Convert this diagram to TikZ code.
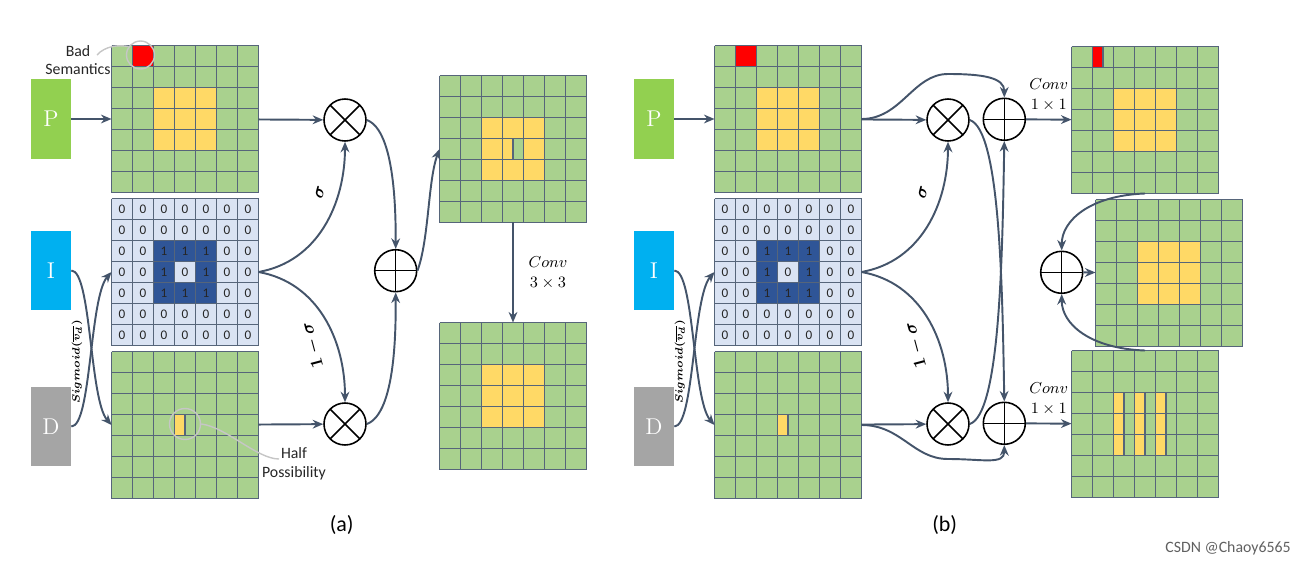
\documentclass[tikz,border=0pt]{standalone}
\usepackage{amsmath}
\usepackage{bm}
\usepackage{fontspec}
\newfontfamily\calib{Carlito}
\usetikzlibrary{calc,arrows.meta}

\definecolor{boxgreen}{HTML}{92D050}
\definecolor{boxblue}{HTML}{00B0F0}
\definecolor{boxgray}{HTML}{A5A5A5}
\definecolor{cellgreen}{HTML}{A9D18E}
\definecolor{cellyellow}{HTML}{FFD966}
\definecolor{cellred}{HTML}{FF0000}
\definecolor{celllight}{HTML}{DAE3F3}
\definecolor{celldark}{HTML}{2F5597}
\definecolor{gridcol}{HTML}{56657A}
\definecolor{arrowcol}{HTML}{44546A}

\def\cellsz{21}
\newcommand\fmcell[4]{\fill[#4] ($(#1.north west)+({(#2-1)*\cellsz},{(#3-1)*\cellsz})$) rectangle +(\cellsz,\cellsz);}
\newcommand\fmhalf[4]{\fill[#4] ($(#1.north west)+({(#2-1)*\cellsz},{(#3-1)*\cellsz})$) rectangle +({\cellsz/2},\cellsz);
	\draw[gridline] ($(#1.north west)+({(#2-0.5)*\cellsz},{(#3-1)*\cellsz})$) -- +(0,\cellsz);}
\newcommand\fmblock[2]{\fill[#2] ($(#1.north west)+(2*\cellsz,2*\cellsz)$) rectangle +(3*\cellsz,3*\cellsz);}
\newcommand\fmgrid[1]{\foreach \k in {0,...,7}{
		\draw[gridline] ($(#1.north west)+(\k*\cellsz,0)$) -- +(0,7*\cellsz);
		\draw[gridline] ($(#1.north west)+(0,\k*\cellsz)$) -- +(7*\cellsz,0);}}

\tikzset{
	fmap/.style={rectangle, inner sep=0pt, outer sep=0pt, minimum size=2.94cm, fill=cellgreen},
	gridline/.style={draw=gridcol, line width=0.6pt},
	inbox/.style={rectangle, minimum width=0.8cm, minimum height=1.6cm, inner sep=0pt, text=white, font=\fontsize{13}{15}\selectfont},
	conn/.style={draw=arrowcol, line width=1.1pt, -{Stealth[length=6pt,width=5pt]}},
	otimesnode/.style={circle, draw, line width=0.9pt, minimum size=0.84cm, inner sep=0pt,
		path picture={\draw[line width=0.9pt] (path picture bounding box.north west) -- (path picture bounding box.south east) (path picture bounding box.north east) -- (path picture bounding box.south west);}},
	oplusnode/.style={circle, draw, line width=0.9pt, minimum size=0.84cm, inner sep=0pt,
		path picture={\draw[line width=0.9pt] (path picture bounding box.north) -- (path picture bounding box.south) (path picture bounding box.west) -- (path picture bounding box.east);}},
	digit/.style={font=\calib\fontsize{7.5}{8}\selectfont, text=black!85, inner sep=0pt},
	annot/.style={draw=gray!45, line width=0.8pt},
	note/.style={font=\calib\fontsize{9}{10.5}\selectfont, align=center, text=black!85},
	convlbl/.style={font=\fontsize{9.5}{11.5}\selectfont, align=center},
	weightlbl/.style={font=\fontsize{10}{12}\selectfont, inner sep=1pt},
}

\begin{document}
\begin{tikzpicture}[x=0.02cm, y=-0.02cm]
	\useasboundingbox (0,0) rectangle (1306,565);
	% the two input columns
	\foreach \s/\dx in {a/0, b/603}{
		\node[inbox, fill=boxgreen] (Pbox\s) at (51+\dx,119) {P};
		\node[inbox, fill=boxblue] (Ibox\s) at (51+\dx,270.5) {I};
		\node[inbox, fill=boxgray] (Dbox\s) at (51+\dx,426.5) {D};
		\node[fmap] (P\s) at (185+\dx,119) {};
		\node[fmap, fill=celllight] (I\s) at (185+\dx,272) {};
		\node[fmap] (D\s) at (185+\dx,425) {};
		\fmcell{P\s}{2}{1}{cellred}
		\fmblock{P\s}{cellyellow}
		\fmblock{I\s}{celldark}
		\fmcell{I\s}{4}{4}{celllight}
		\fmhalf{D\s}{4}{4}{cellyellow}
		\fmgrid{P\s} \fmgrid{I\s} \fmgrid{D\s}
		\foreach \c in {1,...,7}
			\foreach \r in {1,...,7}{
				\pgfmathtruncatemacro\dv{and(and(\c>2,\c<6),and(\r>2,\r<6))*(1-and(\c==4,\r==4))}
				\node[digit] (I\s-\c-\r) at ($(I\s.north west)+({(\c-0.5)*\cellsz},{(\r-0.5)*\cellsz})$) {\dv};
			}
		\node[otimesnode] (mulU\s) at (345+\dx,120) {};
		\node[otimesnode] (mulL\s) at (345+\dx,424) {};
		\draw[conn] (Pbox\s) -- (P\s);
		\draw[conn] (Ibox\s.east) .. controls +(20,0) and +(-22,-25) .. (D\s.west);
		\draw[conn] (Dbox\s.east) .. controls +(20,0) and +(-22,25) .. (I\s.west);
		\node[rotate=90, font=\fontsize{6.5}{7}\selectfont, inner sep=0pt] (sig\s) at (77+\dx,362) {$\bm{Sigmoid(\overline{v_d})}$};
		\draw[conn] (P\s) -- (mulU\s);
		\draw[conn] (D\s) -- (mulL\s);
		\draw[conn] (I\s.east) to[out=10,in=-90] (mulU\s.south);
		\draw[conn] (I\s.east) to[out=-10,in=90] (mulL\s.north);
		\node[weightlbl, rotate=75] (sg\s) at (320+\dx,192) {$\bm{\sigma}$};
		\node[weightlbl, rotate=105] (om\s) at (313+\dx,345) {$\bm{1-\sigma}$};
		\node[font=\calib\fontsize{12.5}{14}\selectfont] (cap\s) at (341.7+\dx,525) {(\s)};
	}
	% (a)
	\node[annot, circle, minimum size=0.56cm] (badc) at (140.5,55) {};
	\node[note] (badtxt) at (78,60) {Bad\\Semantics};
	\coordinate (badend) at (97,55);
	\draw[annot] (badend) .. controls +(8,-9) and +(-10,-2) .. (badc.145);
	\node[annot, circle, minimum size=0.62cm] (halfc) at (185,424) {};
	\node[note] (halftxt) at (294,464) {Half\\Possibility};
	\coordinate (halfend) at (279,459);
	\draw[annot] (halfc.0) .. controls +(25,3) and +(-22,0) .. (halfend);
	\node[oplusnode] (adda) at (395.7,270.7) {};
	\node[fmap] (Ra) at (513,149) {};
	\node[fmap] (Ca) at (513,396) {};
	\fmblock{Ra}{cellyellow}
	\fmcell{Ra}{4}{4}{cellgreen}
	\fmhalf{Ra}{4}{4}{cellyellow}
	\fmblock{Ca}{cellyellow}
	\fmgrid{Ra} \fmgrid{Ca}
	\draw[conn] (mulUa.east) to[out=-20,in=90,looseness=0.6] (adda.north);
	\draw[conn] (mulLa.east) to[out=20,in=-90,looseness=0.6] (adda.south);
	\draw[conn] (adda.east) to[out=70,in=-110,looseness=0.7] (Ra.west);
	\draw[conn] (Ra) -- node[convlbl, right=5pt] (convA) {$Conv$\\$3\times 3$} (Ca);
	% (b)
	\node[oplusnode] (addU) at (1004.3,119.3) {};
	\node[oplusnode] (addL) at (1004.3,423.3) {};
	\node[oplusnode] (addM) at (1061.7,272.3) {};
	\node[fmap] (Tb) at (1145,120) {};
	\node[fmap] (Mb) at (1169,273) {};
	\node[fmap] (Bb) at (1145,424) {};
	\fmhalf{Tb}{2}{1}{cellred}
	\fmblock{Tb}{cellyellow}
	\fmblock{Mb}{cellyellow}
	\foreach \c in {3,4,5}
		\foreach \r in {3,4,5}{\fmhalf{Bb}{\c}{\r}{cellyellow}}
	\fmgrid{Tb} \fmgrid{Mb} \fmgrid{Bb}
	\coordinate (overb) at (948,74);
	\coordinate (underb) at (948,459);
	\draw[conn] (Pb.east) .. controls +(40,0) and +(-35,0) .. (overb) .. controls +(35,0) and +(0,-20) .. (addU.north);
	\draw[conn] (Db.east) .. controls +(40,0) and +(-35,0) .. (underb) .. controls +(35,0) and +(0,20) .. (addL.south);
	\draw[conn] (mulUb.east) .. controls +(30,10) and +(-2,-120) .. (addL.north);
	\draw[conn] (mulLb.east) .. controls +(30,-10) and +(-2,120) .. (addU.south);
	\draw[conn] (addU) -- node[convlbl, above=1pt] (convU) {$Conv$\\$1\times 1$} (Tb);
	\draw[conn] (addL) -- node[convlbl, above=1pt] (convL) {$Conv$\\$1\times 1$} (Bb);
	\draw[conn] (Tb.south) .. controls +(-55,2) and +(0,-30) .. (addM.north);
	\draw[conn] (Bb.north) .. controls +(-55,-2) and +(0,30) .. (addM.south);
	\draw[conn] (addM) -- (Mb);
	\node[font=\calib\fontsize{9}{10}\selectfont, text=gray!75!black] (mark) at (1228,548) {CSDN @Chaoy6565};
\end{tikzpicture}
\end{document}
